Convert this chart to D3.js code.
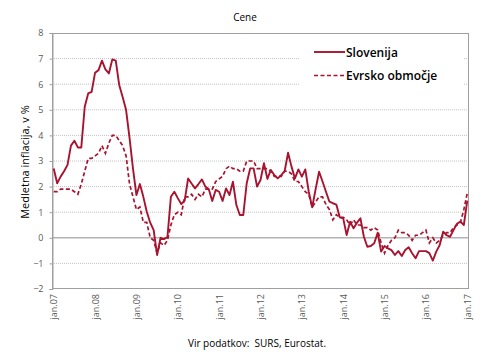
<!DOCTYPE html>
<html><head><meta charset="utf-8">
<script src="https://cdn.jsdelivr.net/npm/d3@7"></script>
<style>body{margin:0;background:#fff;}svg{display:block;}</style>
</head><body>
<svg id="c" width="490" height="364"></svg>
<script>
const years = ["07","08","09","10","11","12","13","14","15","16","17"];
const tickLabels = ["jan.07","jan.08","jan.09","jan.10","jan.11","jan.12","jan.13","jan.14","jan.15","jan.16","jan.17"];
const slovenija = [
 2.71,2.13,2.39,2.6,2.85,3.6,3.79,3.53,3.53,5.12,5.64,5.7,
 6.45,6.55,6.92,6.58,6.42,6.97,6.92,5.97,5.5,4.99,3.9,2.7,
 1.67,2.1,1.6,1.02,0.59,0.3,-0.67,0.0,-0.05,0.03,1.6,1.8,
 1.55,1.32,1.45,2.32,2.12,1.93,2.1,2.28,2.0,1.9,1.44,1.87,
 1.8,1.44,1.93,1.67,2.19,1.28,0.89,0.89,2.13,2.71,2.71,2.0,
 2.26,2.91,2.3,2.65,2.45,2.32,2.45,2.6,3.32,2.78,2.32,2.67,
 2.39,2.67,1.8,1.19,1.9,2.58,2.2,1.8,1.41,1.35,1.3,0.8,
 0.76,0.11,0.63,0.37,0.59,0.76,0.04,-0.35,-0.32,-0.21,0.2,-0.54,
 -0.32,-0.41,-0.48,-0.67,-0.52,-0.71,-0.48,-0.37,-0.6,-0.8,-0.52,-0.52,
 -0.52,-0.6,-0.89,-0.54,-0.28,0.24,0.1,0.04,0.3,0.55,0.63,0.5,
 1.45];
const evrsko = [
 1.8,1.8,1.9,1.9,1.9,1.9,1.8,1.7,2.1,2.6,3.1,3.1,
 3.2,3.3,3.6,3.3,3.7,4.0,4.0,3.8,3.6,3.2,2.1,1.6,
 1.1,1.2,0.6,0.6,0.0,-0.1,-0.6,-0.2,-0.3,-0.1,0.5,0.9,
 1.0,0.9,1.6,1.6,1.7,1.5,1.7,1.6,1.9,1.9,1.9,2.2,
 2.3,2.4,2.7,2.8,2.7,2.7,2.6,2.6,3.0,3.0,3.0,2.7,
 2.7,2.7,2.7,2.6,2.4,2.4,2.4,2.6,2.6,2.5,2.2,2.2,
 2.0,1.8,1.7,1.2,1.4,1.6,1.6,1.3,1.1,0.7,0.9,0.8,
 0.8,0.7,0.5,0.7,0.5,0.5,0.4,0.4,0.3,0.4,0.3,-0.2,
 -0.6,-0.3,-0.1,0.0,0.3,0.2,0.2,0.1,-0.1,0.1,0.1,0.2,
 0.3,-0.2,0.0,-0.2,-0.1,0.1,0.2,0.2,0.4,0.5,0.6,1.1,
 1.75];
const seriesNames = ["Slovenija","Evrsko območje"];
const yTicks = [-2,-1,0,1,2,3,4,5,6,7,8];

const months = [];
years.forEach((y,yi)=>{ const n = yi===years.length-1?1:12; for(let m=0;m<n;m++) months.push(m+"-"+y); });

const svg = d3.select("#c");
const L=52,R=469,T=33,B=289;
const col = "#A8132F";
const font = "'Open Sans', 'DejaVu Sans', sans-serif";

const x = d3.scalePoint().domain(months).range([L,R]).padding(0.5);
const y = d3.scaleLinear().domain([-2,8]).range([B,T]);

// gridlines
svg.append("g").selectAll("line").data(yTicks.filter(v=>v!==-2&&v!==8&&v!==0)).join("line")
  .attr("x1",L).attr("x2",R).attr("y1",d=>y(d)).attr("y2",d=>y(d))
  .attr("stroke","#c4c4c4").attr("stroke-width",1).attr("stroke-dasharray","1,1");
svg.append("line").attr("x1",L).attr("x2",R).attr("y1",y(0)).attr("y2",y(0))
  .attr("stroke","#b3b3b3").attr("stroke-width",1.6);

// plot border
svg.append("rect").attr("x",L+0.5).attr("y",T+0.5).attr("width",R-L-1).attr("height",B-T-1)
  .attr("fill","none").attr("stroke","#9f9f9f").attr("stroke-width",1);

// y axis
const yAxis = d3.axisLeft(y).tickValues(yTicks).tickSize(3).tickPadding(6).tickFormat(d3.format("d"));
const ga = svg.append("g").attr("transform",`translate(${L+0.5},0)`).call(yAxis);
ga.select(".domain").attr("stroke","#9f9f9f");
ga.selectAll(".tick line").attr("stroke","#9f9f9f");
ga.selectAll("text").attr("font-family",font).attr("font-size",9).attr("fill","#595959");

// x axis labels
const xAxis = d3.axisBottom(x).tickValues(months.filter((m,i)=>i%12===0)).tickSize(0)
  .tickFormat((d,i)=>tickLabels[i]);
const gx = svg.append("g").attr("transform",`translate(0,${B})`).call(xAxis);
gx.select(".domain").remove();
gx.selectAll("text").attr("font-family",font).attr("font-size",9).attr("fill","#595959")
  .attr("text-anchor","end").attr("transform","rotate(-90)").attr("x",-5).attr("y",0).attr("dy","0.33em");

// lines
const line = d3.line().x((d,i)=>x(months[i])).y(d=>y(d)).curve(d3.curveLinear);
svg.append("path").datum(evrsko).attr("d",line).attr("fill","none").attr("stroke",col)
  .attr("stroke-width",1.7).attr("stroke-dasharray","4,2.5");
svg.append("path").datum(slovenija).attr("d",line).attr("fill","none").attr("stroke",col)
  .attr("stroke-width",1.9).attr("stroke-linejoin","round");

// legend
const lg = svg.append("g");
lg.append("rect").attr("x",300).attr("y",40).attr("width",163).attr("height",48).attr("fill","#fff");
[0,1].forEach(k=>{
  const yy = 52 + k*23.5;
  lg.append("line").attr("x1",314).attr("x2",345).attr("y1",yy).attr("y2",yy)
    .attr("stroke",col).attr("stroke-width",k?1.7:1.9).attr("stroke-dasharray",k?"4,2.5":null);
  lg.append("text").attr("x",346).attr("y",yy+4.5).text(seriesNames[k])
    .attr("font-family",font).attr("font-size",12).attr("font-weight",600).attr("fill","#000");
});

// titles
svg.append("text").attr("x",245).attr("y",21).attr("text-anchor","middle").text("Cene")
  .attr("font-family",font).attr("font-size",10).attr("fill","#000");
svg.append("text").attr("transform","translate(29,162) rotate(-90)").attr("text-anchor","middle")
  .text("Medletna inflacija, v %").attr("font-family",font).attr("font-size",11).attr("fill","#000");
svg.append("text").attr("x",257).attr("y",347).attr("text-anchor","middle").text("Vir podatkov:  SURS, Eurostat.")
  .attr("font-family",font).attr("font-size",10).attr("fill","#000").attr("xml:space","preserve").style("white-space","pre");
</script>
</body></html>
